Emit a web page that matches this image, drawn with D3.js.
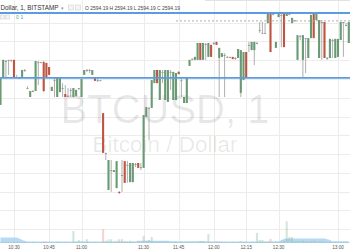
<!DOCTYPE html>
<html>
<head>
<meta charset="utf-8">
<script src="https://cdn.jsdelivr.net/npm/d3@7"></script>
<style>
  html, body { margin: 0; padding: 0; background: #fff; }
  svg { display: block; font-family: "Liberation Sans", Arial, sans-serif; }
</style>
</head>
<body>
<div id="chart"></div>
<script>
// BTCUSD 1 min bars, Bitstamp
var opens = [
  2573.1, 2580.3, 2584.8, 2585.1, 2585.1, 2585.1, 2580.5, 2580.3, 2580.3, 2582.4,
  2577.6, 2575.2, 2576.8, 2576.8, 2584.5, 2584.5, 2584.5, 2584.3, 2583.2, 2576.8,
  2579.7, 2575.2, 2576.5, 2577.6, 2576.0, 2575.5, 2577.1, 2575.2, 2575.5, 2577.6,
  2575.2, 2581.1, 2582.4, 2582.4, 2581.1, 2580.3, 2579.7, 2579.7, 2570.9, 2560.3,
  2550.4, 2555.7, 2555.2, 2550.9, 2549.9, 2554.4, 2558.1, 2557.1, 2552.5, 2552.5,
  2557.3, 2557.6, 2556.5, 2556.3, 2569.9, 2572.3, 2572.3, 2578.9, 2582.4, 2574.4,
  2581.9, 2574.4, 2573.9, 2581.9, 2574.4, 2574.4, 2581.9, 2579.7, 2573.6, 2573.6,
  2583.5, 2585.3, 2585.1, 2585.1, 2589.6, 2585.1, 2589.3, 2585.9, 2589.1, 2589.6,
  2589.9, 2585.6, 2585.9, 2586.4, 2585.9, 2585.9, 2585.9, 2585.6, 2585.6, 2576.3,
  2579.7, 2587.2, 2589.1, 2587.7, 2587.7, 2589.6, 2593.1, 2592.3, 2592.3, 2594.9,
  2597.6, 2597.3, 2588.3, 2596.5, 2597.1, 2597.6, 2596.8, 2597.3, 2594.9, 2595.7,
  2585.1, 2591.5, 2585.1, 2590.9, 2585.6, 2590.9, 2597.6, 2595.7, 2585.6, 2595.2,
  2595.2, 2585.6, 2585.6, 2590.4, 2585.6, 2585.9, 2590.4, 2595.2, 2594.4, 2589.6
];
var highs = [
  2580.3, 2585.1, 2585.1, 2585.1, 2585.1, 2585.1, 2581.1, 2580.5, 2582.4, 2582.7,
  2578.1, 2576.8, 2577.1, 2584.8, 2584.8, 2584.5, 2584.8, 2584.3, 2583.2, 2577.9,
  2580.5, 2580.5, 2580.5, 2578.9, 2578.4, 2577.6, 2577.6, 2577.6, 2577.1, 2577.6,
  2580.0, 2582.4, 2582.7, 2582.7, 2582.4, 2580.3, 2580.3, 2579.7, 2570.9, 2560.3,
  2558.4, 2558.4, 2555.7, 2558.1, 2550.1, 2558.4, 2558.1, 2558.1, 2557.6, 2557.6,
  2557.6, 2557.6, 2557.6, 2570.4, 2572.5, 2572.5, 2579.7, 2582.4, 2582.4, 2582.4,
  2582.4, 2582.4, 2582.4, 2582.4, 2581.9, 2581.6, 2582.1, 2580.5, 2575.2, 2580.3,
  2585.1, 2585.6, 2585.9, 2589.6, 2589.6, 2589.6, 2589.6, 2589.6, 2589.1, 2589.9,
  2589.9, 2588.3, 2586.9, 2586.9, 2586.1, 2585.9, 2585.9, 2585.9, 2588.0, 2587.7,
  2587.2, 2587.2, 2589.9, 2589.9, 2589.9, 2589.9, 2595.2, 2595.2, 2594.9, 2597.6,
  2597.6, 2597.6, 2589.9, 2597.6, 2597.6, 2597.6, 2597.6, 2597.6, 2596.3, 2595.7,
  2591.7, 2591.7, 2591.7, 2590.9, 2590.9, 2597.1, 2597.6, 2597.6, 2595.7, 2595.7,
  2595.2, 2585.9, 2590.7, 2590.7, 2590.7, 2590.7, 2595.2, 2595.2, 2594.9, 2595.2
];
var lows = [
  2573.1, 2580.3, 2580.3, 2581.1, 2584.5, 2580.5, 2580.3, 2580.0, 2580.3, 2581.9,
  2577.3, 2575.2, 2576.5, 2576.8, 2578.4, 2584.3, 2576.5, 2580.5, 2581.1, 2576.8,
  2575.2, 2575.2, 2576.5, 2575.2, 2575.2, 2575.2, 2575.2, 2575.2, 2575.2, 2577.1,
  2575.2, 2581.1, 2581.9, 2581.6, 2581.1, 2579.5, 2579.2, 2579.5, 2560.3, 2558.4,
  2550.4, 2549.9, 2555.2, 2550.9, 2549.3, 2549.9, 2552.3, 2552.3, 2552.5, 2552.5,
  2556.5, 2556.3, 2555.7, 2556.3, 2569.9, 2563.7, 2572.3, 2578.9, 2578.9, 2574.4,
  2578.9, 2574.4, 2573.9, 2577.1, 2574.4, 2574.4, 2581.3, 2575.2, 2573.6, 2573.6,
  2583.5, 2585.1, 2585.1, 2585.1, 2585.1, 2585.1, 2585.1, 2585.9, 2585.9, 2589.1,
  2589.1, 2575.2, 2585.9, 2575.2, 2585.6, 2585.6, 2585.3, 2585.1, 2585.6, 2575.2,
  2579.7, 2580.3, 2587.2, 2587.7, 2583.7, 2589.3, 2592.3, 2592.3, 2592.3, 2594.9,
  2587.2, 2597.1, 2588.3, 2596.5, 2588.5, 2588.5, 2596.8, 2597.1, 2594.9, 2595.2,
  2585.1, 2590.4, 2580.3, 2581.6, 2585.6, 2590.9, 2590.9, 2595.7, 2585.6, 2585.1,
  2585.6, 2585.1, 2585.6, 2585.6, 2585.6, 2585.9, 2590.4, 2585.9, 2594.1, 2589.6
];
var closes = [
  2580.3, 2585.1, 2584.8, 2585.1, 2585.1, 2580.5, 2580.5, 2580.3, 2582.4, 2582.4,
  2577.6, 2576.8, 2576.8, 2584.8, 2584.5, 2584.5, 2576.8, 2580.5, 2581.1, 2577.9,
  2579.7, 2580.5, 2580.5, 2577.6, 2575.2, 2575.5, 2577.1, 2577.6, 2577.1, 2577.6,
  2580.0, 2582.4, 2582.4, 2582.4, 2582.4, 2579.5, 2579.7, 2579.7, 2560.3, 2560.3,
  2558.4, 2555.7, 2555.7, 2558.1, 2549.6, 2554.4, 2552.3, 2557.1, 2557.6, 2557.6,
  2557.3, 2556.3, 2556.5, 2570.4, 2572.5, 2572.3, 2579.7, 2582.4, 2578.9, 2582.4,
  2581.9, 2582.4, 2582.4, 2581.9, 2581.9, 2581.6, 2581.3, 2579.7, 2575.2, 2580.3,
  2585.1, 2585.3, 2585.9, 2589.6, 2585.1, 2589.6, 2589.3, 2589.6, 2585.9, 2589.6,
  2589.1, 2588.3, 2586.9, 2586.4, 2585.9, 2585.9, 2585.3, 2585.6, 2588.0, 2587.7,
  2587.2, 2580.3, 2589.1, 2589.9, 2589.9, 2589.6, 2593.1, 2592.3, 2592.3, 2597.6,
  2587.2, 2597.3, 2589.9, 2597.6, 2597.1, 2588.5, 2597.6, 2597.3, 2596.3, 2595.7,
  2591.7, 2591.5, 2591.7, 2590.9, 2590.9, 2597.1, 2590.9, 2597.6, 2595.7, 2595.2,
  2585.6, 2585.6, 2590.7, 2590.4, 2590.7, 2590.7, 2595.2, 2595.2, 2594.4, 2595.2
];
var volumes = [
  3, 3, 3, 3, 3, 3, 3, 3, 3, 3,
  2, 2, 3, 2, 2, 2, 4, 3, 2, 2,
  2, 3, 3, 2, 3, 2, 2, 32, 3, 8,
  4, 3, 10, 3, 2, 3, 2, 2, 37, 6,
  10, 10, 4, 6, 10, 10, 5, 4, 6, 4,
  3, 4, 3, 19, 6, 8, 16, 4, 3, 4,
  3, 4, 3, 3, 3, 3, 2, 3, 2, 3,
  3, 3, 2, 3, 5, 5, 3, 24, 3, 3,
  5, 4, 3, 3, 2, 2, 3, 2, 3, 4,
  3, 3, 2, 3, 3, 27, 8, 8, 3, 4,
  11, 3, 4, 3, 4, 5, 58, 16, 16, 5,
  6, 5, 6, 5, 4, 5, 6, 5, 4, 5,
  4, 3, 3, 3, 3, 2, 3, 2, 3, 2
];
var volumeAvg = [
  15, 15, 15, 15, 15, 15, 14, 12, 8, 6,
  4, 4, 4, 4, 4, 4, 4, 4, 4, 4,
  4, 4, 4, 4, 4, 4, 4, 4, 4, 4,
  4, 4, 4, 4, 4, 4, 4, 4, 4, 4,
  4, 4, 4, 4, 4, 4, 4, 4, 4, 4,
  4, 6, 6, 6, 6, 6, 6, 6, 6, 6,
  6, 6, 6, 5, 5, 5, 5, 5, 5, 5,
  5, 5, 5, 5, 5, 5, 5, 4, 4, 4,
  4, 4, 4, 4, 4, 4, 4, 4, 4, 4,
  4, 4, 4, 4, 4, 4, 4, 4, 4, 4,
  4, 4, 4, 4, 8, 11, 12, 12, 12, 12,
  12, 12, 12, 12, 12, 12, 12, 12, 12, 12,
  12, 10, 8, 5, 5, 5, 5, 5, 5, 5
];
var tickBars = [5, 18, 30, 53, 66, 79, 91, 103, 125];
var tickLabels = ["10:30", "10:45", "11:00", "11:30", "11:45", "12:00", "12:15", "12:30", "13:00"];
var levels = [2597.6, 2580.3];   // drawn horizontal lines
var rayPrice = 2595.5, rayStart = 65;

var width = 350, height = 250;
var green = "#6a9a74", red = "#bf5540", flat = "#9a9a9a";

var svg = d3.select("#chart").append("svg")
  .attr("width", width)
  .attr("height", height);

var n = opens.length;
var x = d3.scaleBand()
  .domain(d3.range(n))
  .range([-0.85, 350.15])
  .paddingInner(0.22)
  .paddingOuter(0.11);
var cx = i => x(i) + x.bandwidth() / 2;

var y = d3.scaleLinear().domain([2540, 2600]).range([229, 4]);
var v = d3.scaleLinear().domain([0, 60]).range([243, 220.5]);

// grid
svg.append("g").selectAll("line")
  .data(d3.range(2540, 2600, 5))
  .enter().append("line")
  .attr("x1", 0).attr("x2", width)
  .attr("y1", d => Math.round(y(d)) + 0.5).attr("y2", d => Math.round(y(d)) + 0.5)
  .attr("stroke", "#ececec");

svg.append("g").selectAll("line")
  .data(tickBars)
  .enter().append("line")
  .attr("x1", d => Math.round(cx(d)) + 0.5).attr("x2", d => Math.round(cx(d)) + 0.5)
  .attr("y1", 0).attr("y2", 243)
  .attr("stroke", "#ececec");

svg.append("rect")
  .attr("x", 205).attr("y", 0).attr("width", 145).attr("height", 1)
  .attr("fill", "#e2e2e2");

// watermark
svg.append("text")
  .attr("x", 165).attr("y", 123)
  .attr("text-anchor", "middle")
  .attr("font-size", 40)
  .attr("fill", "#000").attr("fill-opacity", 0.09)
  .text("BTCUSD, 1");
svg.append("text")
  .attr("x", 165).attr("y", 152)
  .attr("text-anchor", "middle")
  .attr("font-size", 22.5)
  .attr("fill", "#000").attr("fill-opacity", 0.09)
  .text("Bitcoin / Dollar");

// volume
var area = d3.area()
  .x((d, i) => cx(i))
  .y0(v(0))
  .y1(d => v(d))
  .curve(d3.curveMonotoneX);
svg.append("path")
  .datum(volumeAvg)
  .attr("d", area)
  .attr("fill", "#a9d2f3")
  .attr("fill-opacity", 0.85);

svg.append("g").selectAll("rect")
  .data(volumes)
  .enter().append("rect")
  .attr("x", (d, i) => x(i))
  .attr("width", x.bandwidth())
  .attr("y", d => v(d))
  .attr("height", d => v(0) - v(d))
  .attr("fill", (d, i) => closes[i] < opens[i] ? "#d98a8a" : "#7fb98a")
  .attr("fill-opacity", 0.35);

// candles
var bars = d3.range(n);
svg.append("g").selectAll("line")
  .data(bars)
  .enter().append("line")
  .attr("x1", i => cx(i)).attr("x2", i => cx(i))
  .attr("y1", i => y(highs[i]))
  .attr("y2", i => y(lows[i]))
  .attr("stroke", "#a6a6a6")
  .attr("stroke-width", 0.9);

svg.append("g").selectAll("rect")
  .data(bars)
  .enter().append("rect")
  .attr("x", i => x(i))
  .attr("width", x.bandwidth())
  .attr("y", i => y(Math.max(opens[i], closes[i])))
  .attr("height", i => Math.max(1, Math.abs(y(opens[i]) - y(closes[i]))))
  .attr("fill", i => closes[i] > opens[i] ? green : closes[i] < opens[i] ? red : flat);

// drawn lines
svg.append("g").selectAll("line")
  .data(levels)
  .enter().append("line")
  .attr("x1", 0).attr("x2", width)
  .attr("y1", d => y(d)).attr("y2", d => y(d))
  .attr("stroke", "#5b9ce0")
  .attr("stroke-width", 1.8);

svg.append("line")
  .attr("x1", cx(rayStart)).attr("x2", width)
  .attr("y1", y(rayPrice)).attr("y2", y(rayPrice))
  .attr("stroke", "#b0b0b0")
  .attr("stroke-dasharray", "2,2");

// header
svg.append("text")
  .attr("x", 0.5).attr("y", 10)
  .attr("font-size", 6.6)
  .attr("fill", "#333")
  .attr("textLength", 58)
  .attr("lengthAdjust", "spacingAndGlyphs")
  .text("Dollar, 1, BITSTAMP");
svg.append("text")
  .attr("x", 60.5).attr("y", 10)
  .attr("font-size", 5)
  .attr("fill", "#999")
  .text("▾");
svg.selectAll(".icon")
  .data([[68.5, 5], [75.5, 5], [0.5, 15], [5.5, 15]])
  .enter().append("rect")
  .attr("class", "icon")
  .attr("x", d => d[0]).attr("y", d => d[1])
  .attr("width", d => d[1] < 10 ? 5 : 4).attr("height", d => d[1] < 10 ? 5 : 4)
  .attr("fill", "#f4f4f4")
  .attr("stroke", "#d4d4d4")
  .attr("stroke-width", 0.6);
svg.append("text")
  .attr("x", 85).attr("y", 10)
  .attr("font-size", 5.2)
  .attr("fill", "#444")
  .attr("textLength", 95)
  .attr("lengthAdjust", "spacingAndGlyphs")
  .text("O 2594.19 H 2594.19 L 2594.19 C 2594.19");
svg.append("text")
  .attr("x", 16).attr("y", 19)
  .attr("font-size", 4.8)
  .attr("fill", "#5aa469")
  .text("0");
svg.append("text")
  .attr("x", 20.5).attr("y", 19)
  .attr("font-size", 4.8)
  .attr("fill", "#3d8fd6")
  .text("1");

// time axis
svg.append("g").selectAll("text")
  .data(tickBars)
  .enter().append("text")
  .attr("x", d => cx(d))
  .attr("y", 248.5)
  .attr("text-anchor", "middle")
  .attr("font-size", 4.6)
  .attr("fill", "#555")
  .text((d, i) => tickLabels[i]);
</script>
</body>
</html>
